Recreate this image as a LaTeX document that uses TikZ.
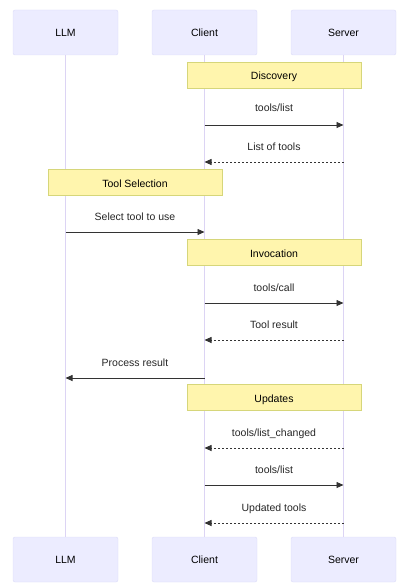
\documentclass[tikz,border=0pt]{standalone}
\usepackage{fontspec}
\setmainfont{Liberation Sans}
\usetikzlibrary{arrows.meta}
\definecolor{actfill}{HTML}{ECECFF}
\definecolor{actdraw}{HTML}{DCDCF8}
\definecolor{lifel}{HTML}{DCD4F4}
\definecolor{notefill}{HTML}{FFF5AD}
\definecolor{notedraw}{HTML}{D6D67A}
\definecolor{msg}{HTML}{333333}
\tikzset{
  actor/.style={draw=actdraw, fill=actfill, rounded corners=2pt, minimum width=105pt, minimum height=45pt, inner sep=0pt, font=\fontsize{10.5}{12}\selectfont, text=black},
  notebox/.style={draw=notedraw, fill=notefill, minimum height=26pt, inner sep=0pt, text height=10pt, text depth=0pt, font=\fontsize{10.5}{12}\selectfont, text=black},
  lbl/.style={font=\fontsize{10.5}{12}\selectfont, text=black!85, text height=8pt, text depth=2pt},
  lifeline/.style={draw=lifel, line width=0.8pt},
  call/.style={draw=msg, line width=0.8pt, -{Triangle[length=7pt,width=6pt]}},
  reply/.style={draw=msg, line width=0.8pt, dash pattern=on 2pt off 2pt, -{Triangle[length=7pt,width=6pt]}},
}
\begin{document}
\begin{tikzpicture}[x=1pt,y=-1pt]
\useasboundingbox (0,0) rectangle (408,588);
% actors
\node[actor] (llmT) at (65.5,32.5) {LLM};
\node[actor] (cliT) at (204.5,32.5) {Client};
\node[actor] (srvT) at (343.5,32.5) {Server};
\node[actor] (llmB) at (65.5,559.5) {LLM};
\node[actor] (cliB) at (204.5,559.5) {Client};
\node[actor] (srvB) at (343.5,559.5) {Server};
% lifelines
\draw[lifeline] (llmT) -- (llmB);
\draw[lifeline] (cliT) -- (cliB);
\draw[lifeline] (srvT) -- (srvB);
% message anchor coordinates
\foreach \n/\y in {a/125,b/162,c/232,d/303,e/340,f/378,g/448,h/485,i/523}{
  \coordinate (L\n) at (65.5,\y);
  \coordinate (C\n) at (204.5,\y);
  \coordinate (S\n) at (343.5,\y);
}
% notes
\node[notebox, minimum width=174pt] (n1) at (274,75) {Discovery};
\node[notebox, minimum width=174pt] (n2) at (135,182) {Tool Selection};
\node[notebox, minimum width=174pt] (n3) at (274,252) {Invocation};
\node[notebox, minimum width=174pt] (n4) at (274,397.5) {Updates};
% messages
\draw[call] (Ca) -- node[lbl, pos=0.5, yshift=16pt] {tools/list} (Sa);
\draw[reply] (Sb) -- node[lbl, pos=0.5, yshift=14pt] {List of tools} (Cb);
\draw[call] (Lc) -- node[lbl, pos=0.5, yshift=14.5pt] {Select tool to use} (Cc);
\draw[call] (Cd) -- node[lbl, pos=0.5, yshift=15pt] {tools/call} (Sd);
\draw[reply] (Se) -- node[lbl, pos=0.5, yshift=15pt] {Tool result} (Ce);
\draw[call] (Cf) -- node[lbl, pos=0.5, yshift=15pt] {Process result} (Lf);
\draw[reply] (Sg) -- node[lbl, pos=0.5, yshift=15pt] {tools/list\_changed} (Cg);
\draw[call] (Ch) -- node[lbl, pos=0.5, yshift=15pt] {tools/list} (Sh);
\draw[reply] (Si) -- node[lbl, pos=0.5, yshift=15pt] {Updated tools} (Ci);
\end{tikzpicture}
\end{document}
